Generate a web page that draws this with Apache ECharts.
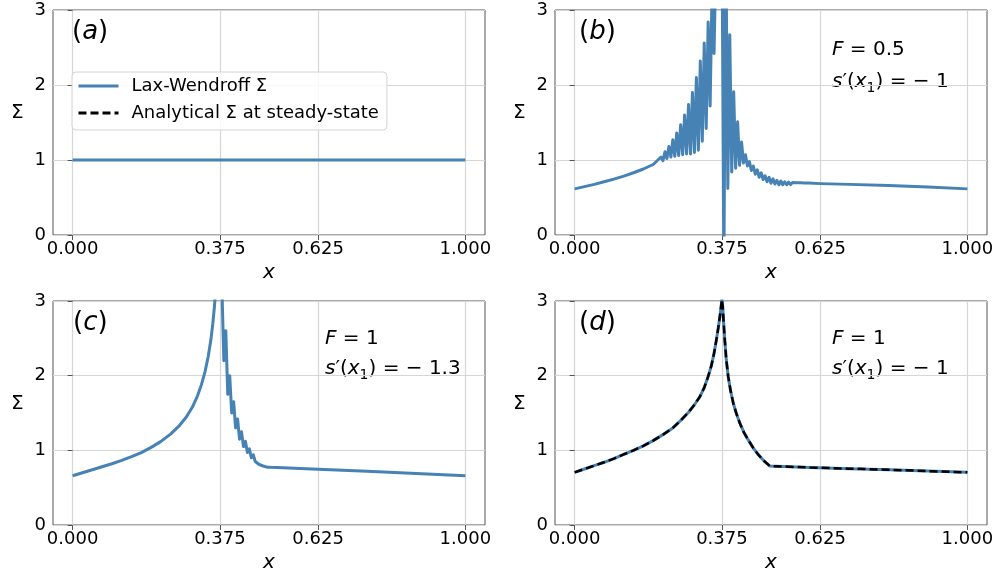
<!DOCTYPE html>
<html><head><meta charset="utf-8">
<script src="https://cdn.jsdelivr.net/npm/echarts@6/dist/echarts.min.js"></script>
<style>html,body{margin:0;padding:0;background:#fff}#c{width:1001px;height:584px}</style>
</head><body><div id="c"></div><script>
// ---- data ----
const xTicks = [0, 0.375, 0.625, 1];
const xTickLabels = ['0.000', '0.375', '0.625', '1.000'];
const yTicks = [0, 1, 2, 3];
const panelLetters = ['a', 'b', 'c', 'd'];
const annotF = [null, '0.5', '1', '1'];
const annotS = [null, '− 1', '− 1.3', '− 1'];
const seriesNames = ['Lax-Wendroff Σ', 'Analytical Σ at steady-state'];

const xA = [0, 1];
const sigmaA = [1, 1];

const xB = [0, 0.025, 0.05, 0.075, 0.1, 0.125, 0.15, 0.175, 0.2,
  0.205, 0.21, 0.215, 0.22, 0.225, 0.23, 0.235, 0.24, 0.245, 0.25, 0.255, 0.26, 0.265, 0.27, 0.275, 0.28,
  0.285, 0.29, 0.295, 0.3, 0.305, 0.31, 0.315, 0.32, 0.325, 0.33, 0.335, 0.34, 0.345, 0.35, 0.355, 0.36,
  0.365, 0.37, 0.375, 0.38, 0.385, 0.39, 0.395, 0.4, 0.405, 0.41, 0.415, 0.42, 0.425, 0.43, 0.435, 0.44,
  0.445, 0.45, 0.455, 0.46, 0.465, 0.47, 0.475, 0.48, 0.485, 0.49, 0.495, 0.5, 0.505, 0.51, 0.515, 0.52,
  0.525, 0.53, 0.535, 0.54, 0.545, 0.55, 0.555, 0.56, 0.565, 0.57, 0.575, 0.58, 0.585, 0.59, 0.595, 0.6,
  0.625, 0.7, 0.8, 0.9, 1.0];
const sigmaB = [0.615, 0.645, 0.675, 0.71, 0.745, 0.785, 0.83, 0.88, 0.94,
  0.95, 0.99, 0.97, 1.04, 0.99, 1.11, 1.02, 1.18, 1.04, 1.27, 1.05, 1.36, 1.06, 1.47, 1.07, 1.60,
  1.08, 1.74, 1.08, 1.90, 1.10, 2.10, 1.13, 2.32, 1.25, 2.56, 1.42, 2.84, 1.72, 3.30, 2.42, 3.80,
  3.40, 4.50, 4.20, -0.50, 4.00, 0.62, 2.67, 0.84, 1.91, 0.89, 1.51, 0.93, 1.24, 0.96, 1.07, 0.92,
  0.98, 0.86, 0.92, 0.81, 0.87, 0.77, 0.83, 0.74, 0.79, 0.71, 0.77, 0.69, 0.75, 0.68, 0.73, 0.67,
  0.72, 0.67, 0.71, 0.67, 0.705, 0.672, 0.70, 0.675, 0.698, 0.677, 0.696, 0.679, 0.694, 0.681, 0.692, 0.686,
  0.685, 0.675, 0.66, 0.64, 0.615];

const xC = [0, 0.025, 0.05, 0.075, 0.1, 0.125, 0.15, 0.175, 0.2, 0.225, 0.25, 0.27, 0.29, 0.305, 0.318,
  0.328, 0.337, 0.345, 0.352, 0.357, 0.361, 0.365, 0.37, 0.375,
  0.38, 0.385, 0.39, 0.395, 0.4, 0.405, 0.41, 0.415, 0.42, 0.425, 0.43, 0.435, 0.44, 0.445, 0.45, 0.455,
  0.46, 0.465, 0.47, 0.475, 0.48, 0.485, 0.49, 0.495, 0.5, 0.505, 0.51, 0.52, 0.625, 0.75, 0.875, 1.0];
const sigmaC = [0.66, 0.70, 0.74, 0.78, 0.82, 0.865, 0.915, 0.97, 1.04, 1.12, 1.22, 1.32, 1.45, 1.58, 1.73,
  1.88, 2.05, 2.25, 2.48, 2.70, 2.92, 3.2, 4.0, 5.0,
  3.2, 2.2, 2.6, 1.75, 2.0, 1.5, 1.65, 1.3, 1.42, 1.15, 1.25, 1.05, 1.12, 0.97, 1.02, 0.9,
  0.94, 0.85, 0.87, 0.81, 0.83, 0.79, 0.80, 0.775, 0.78, 0.772, 0.776, 0.77, 0.745, 0.72, 0.69, 0.66];

const xD = [0, 0.025, 0.05, 0.075, 0.1, 0.125, 0.15, 0.175, 0.2, 0.225, 0.25, 0.27, 0.29, 0.305, 0.319,
  0.33, 0.34, 0.348, 0.355, 0.361, 0.366, 0.37, 0.373, 0.375, 0.377, 0.379, 0.382, 0.386, 0.391, 0.397,
  0.404, 0.412, 0.421, 0.431, 0.442, 0.455, 0.468, 0.482, 0.497, 0.6, 0.7, 0.8, 0.9, 1.0];
const sigmaD = [0.705, 0.75, 0.795, 0.84, 0.89, 0.945, 1.0, 1.06, 1.13, 1.21, 1.30, 1.40, 1.51, 1.61, 1.72,
  1.84, 1.99, 2.13, 2.30, 2.48, 2.65, 2.80, 2.93, 3.02, 2.93, 2.75, 2.50, 2.22, 1.99, 1.80,
  1.63, 1.49, 1.36, 1.24, 1.14, 1.03, 0.94, 0.86, 0.79, 0.77, 0.755, 0.74, 0.722, 0.705];
const sigmaDExact = sigmaD.slice();

// ---- layout ----
const FONT = 'DejaVu Sans';
const grids = [
  {left: 53, top: 10, width: 432, height: 225},
  {left: 555, top: 10, width: 432, height: 225},
  {left: 53, top: 301, width: 432, height: 224},
  {left: 555, top: 301, width: 432, height: 224}
];
const panelLabelLeft = [72, 579, 73, 579];
const zip = (xs, ys) => xs.map((x, i) => [x, ys[i]]);
const lwData = [zip(xA, sigmaA), zip(xB, sigmaB), zip(xC, sigmaC), zip(xD, sigmaD)];

const xAxes = grids.map((g, i) => ({
  type: 'value', gridIndex: i, min: -0.05, max: 1.05,
  axisLine: {show: false},
  axisTick: {show: true, length: 5, lineStyle: {color: '#555'}, customValues: xTicks},
  axisLabel: {customValues: xTicks, formatter: v => xTickLabels[xTicks.indexOf(+v.toFixed(3))] ?? '',
    fontFamily: FONT, fontSize: 18, color: '#000', margin: 5},
  splitLine: {show: true, lineStyle: {color: '#d6d6d6', width: 1.2}},
  name: 'x', nameLocation: 'middle', nameGap: 28,
  nameTextStyle: {fontFamily: FONT, fontSize: 20, fontStyle: 'italic', color: '#000'}
}));
const yAxes = grids.map((g, i) => ({
  type: 'value', gridIndex: i, min: 0, max: 3, interval: 1,
  axisLine: {show: false},
  axisTick: {show: true, length: 5, lineStyle: {color: '#555'}},
  axisLabel: {fontFamily: FONT, fontSize: 18, color: '#000', margin: 7},
  splitLine: {show: true, lineStyle: {color: '#d6d6d6', width: 1.2}}
}));

const series = lwData.map((d, i) => ({
  name: seriesNames[0], type: 'line', xAxisIndex: i, yAxisIndex: i, data: d,
  symbol: 'none', showSymbol: false, animation: false, z: 2,
  lineStyle: {color: '#4682b4', width: 3, join: 'round'}, itemStyle: {color: '#4682b4'}
}));
series.push({
  name: seriesNames[1], type: 'line', xAxisIndex: 3, yAxisIndex: 3, data: zip(xD, sigmaDExact),
  symbol: 'none', showSymbol: false, animation: false, z: 3,
  lineStyle: {color: '#000', width: 2.5, type: [8, 4]}, itemStyle: {color: '#000'}
});

const graphic = [];
const mathRich = {
  i: {fontStyle: 'italic', fontSize: 20, fontFamily: FONT, lineHeight: 26},
  r: {fontSize: 20, fontFamily: FONT, lineHeight: 26},
  sub: {fontSize: 14, fontFamily: FONT, verticalAlign: 'bottom', lineHeight: 16}
};
grids.forEach((g, i) => {
  graphic.push({type: 'text', left: panelLabelLeft[i], top: g.top + 9,
    style: {text: '({i|' + panelLetters[i] + '})', font: '26px "' + FONT + '"', fill: '#000',
      rich: {i: {fontStyle: 'italic', fontSize: 26, fontFamily: FONT}}}});
  graphic.push({type: 'text', left: g.left - 42, top: g.top + 93,
    style: {text: 'Σ', font: '20px "' + FONT + '"', fill: '#000'}});
  if (annotF[i]) {
    const ax = i === 2 ? g.left + 272 : g.left + 277;
    const y1 = i === 1 ? g.top + 30 : g.top + 28;
    const y2 = i === 1 ? g.top + 62 : g.top + 58;
    graphic.push({type: 'text', left: ax, top: y1,
      style: {text: '{i|F}{r| = ' + annotF[i] + '}', font: '20px "' + FONT + '"', fill: '#000', rich: mathRich}});
    graphic.push({type: 'text', left: ax, top: y2,
      style: {text: '{i|s}{r|′(}{i|x}{sub|1}{r|) = ' + annotS[i] + '}', font: '20px "' + FONT + '"', fill: '#000', rich: mathRich}});
  }
});

const option = {
  animation: false,
  backgroundColor: '#fff',
  grid: grids.map(g => Object.assign({show: true, borderColor: '#555', borderWidth: 1, backgroundColor: 'transparent', containLabel: false}, g)),
  xAxis: xAxes, yAxis: yAxes, series: series, graphic: graphic,
  legend: {
    data: seriesNames, orient: 'vertical', left: 72, top: 72,
    itemWidth: 40, itemHeight: 20, itemGap: 9, padding: [5, 8, 8, 5],
    itemStyle: {color: 'rgba(0,0,0,0)', borderColor: 'rgba(0,0,0,0)', borderWidth: 0, opacity: 0},
    lineStyle: {width: 3},
    backgroundColor: 'rgba(255,255,255,0.85)', borderColor: '#d4d4d4', borderWidth: 1, borderRadius: 4,
    textStyle: {fontFamily: FONT, fontSize: 18, color: '#000', padding: [0, 0, 0, 8]},
    selectedMode: false
  }
};
const chart = echarts.init(document.getElementById('c'), null, {renderer: 'canvas'});
chart.setOption(option);
</script></body></html>
